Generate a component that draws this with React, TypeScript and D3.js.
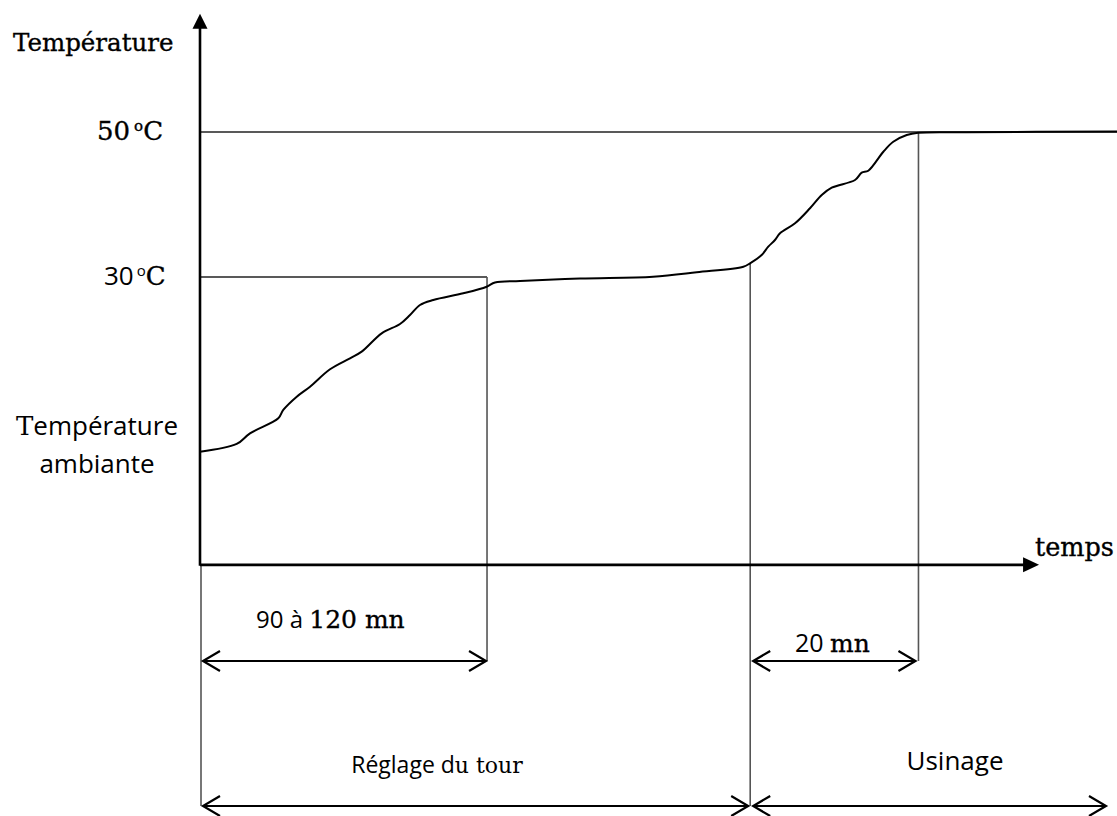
import React from "react";
import * as d3 from "d3";

// time (arbitrary units), temperature (°C, schematic)
const curveTime = [0, 4.0, 5.45, 8.54, 9.08, 10.55, 12.0, 14.18, 16.36, 17.63, 19.81, 21.81, 22.9, 23.99, 25.44, 28.71, 31.26, 32.17, 34.9, 41.44, 49.4, 54.17, 59.25, 59.98, 61.25, 61.97, 62.7, 63.25, 64.89, 66.52, 67.8, 68.89, 71.43, 72.16, 72.88, 74.52, 75.6, 77.07, 78.33, 83.6, 100];
const curveTemp = [5.9, 6.97, 8.44, 10.51, 11.66, 13.49, 14.87, 17.27, 18.79, 19.7, 22.23, 23.52, 24.76, 26.14, 26.83, 27.75, 28.66, 29.24, 29.45, 29.79, 30.04, 30.65, 31.42, 31.89, 33.03, 34.18, 35.1, 36.03, 37.41, 39.48, 41.31, 42.32, 43.38, 44.39, 44.66, 47.28, 48.66, 49.59, 49.9, 49.97, 50.07];

const levelTemps = [30, 50];
const markTimes = [0, 31.3, 60, 78.35]; // start, end réglage 90-120 mn, start usinage, end 20 mn
const axisEndTime = 91.5;
const usinageEnd = 98.8;
const tempMin = -9.7;
const tempMax = 66.3;
const timeMax = 100;

export default function App() {
  const x = d3.scaleLinear().domain([0, timeMax]).range([200, 1117]);
  const y = d3.scaleLinear().domain([30, 50]).range([277, 132]);
  const pts = curveTime.map((t, i) => [t, curveTemp[i]] as [number, number]);
  const line = d3
    .line<[number, number]>()
    .x((d) => x(d[0]))
    .y((d) => y(d[1]))
    .curve(d3.curveCatmullRom.alpha(0.5));

  const x0 = x(0);
  const yAxis = y(tempMin);
  const yTop = y(tempMax);
  const xEnd = x(axisEndTime);

  const arrowY1 = 661;
  const arrowY2 = 806;

  const dbl = (xa: number, xb: number, yy: number, key: string) => {
    const h = 17;
    const w = 10;
    return (
      <g key={key} stroke="#000" strokeWidth={2.2} fill="none">
        <line x1={xa} x2={xb} y1={yy} y2={yy} />
        <polyline points={`${xa + h},${yy - w} ${xa},${yy} ${xa + h},${yy + w}`} />
        <polyline points={`${xb - h},${yy - w} ${xb},${yy} ${xb - h},${yy + w}`} />
      </g>
    );
  };

  const serif = "'DejaVu Serif', serif";
  const sans = "'Open Sans', sans-serif";
  const thick = { stroke: "#000", strokeWidth: 0.35 };

  return (
    <svg width={1117} height={816} style={{ position: "absolute", left: 0, top: 0, background: "#fff" }}>
      {/* reference lines */}
      <line x1={x0} x2={1117} y1={y(levelTemps[1])} y2={y(levelTemps[1])} stroke="#222" strokeWidth={1.3} />
      <line x1={x0} x2={x(markTimes[1])} y1={y(levelTemps[0])} y2={y(levelTemps[0])} stroke="#222" strokeWidth={1.3} />
      <line x1={x(markTimes[1])} x2={x(markTimes[1])} y1={y(levelTemps[0])} y2={arrowY1} stroke="#555" strokeWidth={1.6} />
      <line x1={x(markTimes[2])} x2={x(markTimes[2])} y1={y(curveTemp[23])} y2={arrowY2} stroke="#555" strokeWidth={1.6} />
      <line x1={x(markTimes[3])} x2={x(markTimes[3])} y1={y(levelTemps[1])} y2={arrowY1} stroke="#555" strokeWidth={1.6} />
      <line x1={x0 + 1} x2={x0 + 1} y1={yAxis} y2={arrowY2} stroke="#555" strokeWidth={1.6} />

      {/* axes */}
      <line x1={x0} x2={x0} y1={yAxis + 1} y2={yTop + 12} stroke="#000" strokeWidth={2.6} />
      <polygon points={`${x0},${yTop} ${x0 - 7.5},${yTop + 15} ${x0 + 7.5},${yTop + 15}`} fill="#000" />
      <line x1={x0} x2={xEnd - 12} y1={yAxis} y2={yAxis} stroke="#000" strokeWidth={2.6} />
      <polygon points={`${xEnd},${yAxis} ${xEnd - 16},${yAxis - 7.5} ${xEnd - 16},${yAxis + 7.5}`} fill="#000" />

      {/* curve */}
      <path d={line(pts) || ""} fill="none" stroke="#000" strokeWidth={2} strokeLinejoin="round" />

      {/* dimension arrows */}
      {dbl(x0 + 3, x(markTimes[1]) - 1, arrowY1, "a1")}
      {dbl(x(markTimes[2]) + 3, x(markTimes[3]) - 3, arrowY1, "a2")}
      {dbl(x0 + 3, x(markTimes[2]) - 2, arrowY2, "a3")}
      {dbl(x(markTimes[2]) + 3, x(usinageEnd), arrowY2, "a4")}

      {/* labels */}
      <text x={13} y={51} fontFamily={serif} fontSize={24.5} fill="#000" {...thick}>Température</text>
      <text x={97} y={140} fontFamily={serif} fontSize={26} fill="#000" {...thick}>
        50<tspan fontSize={15} dy={-9} dx={4}>o</tspan><tspan dy={9}>C</tspan>
      </text>
      <text x={104} y={285} fill="#000">
        <tspan fontFamily={sans} fontSize={26}>30</tspan>
        <tspan fontFamily={sans} fontSize={15} dy={-9} dx={3}>o</tspan>
        <tspan fontFamily={serif} fontSize={26} dy={9} {...thick}>C</tspan>
      </text>
      <text x={97} y={435} textAnchor="middle" fill="#000" fontSize={26}>
        <tspan fontFamily={serif}>T</tspan><tspan fontFamily={sans}>empérature</tspan>
      </text>
      <text x={97} y={473} textAnchor="middle" fontFamily={sans} fontSize={26} fill="#000">ambiante</text>
      <text x={1035} y={556} fontFamily={serif} fontSize={25.5} fill="#000" {...thick}>temps</text>

      <text x={256} y={628} fill="#000">
        <tspan fontFamily={sans} fontSize={24}>90 à </tspan>
        <tspan fontFamily={serif} fontSize={25} {...thick}>120 mn</tspan>
      </text>
      <text x={795} y={652} fill="#000">
        <tspan fontFamily={sans} fontSize={25}>20 </tspan>
        <tspan fontFamily={serif} fontSize={25} {...thick}>mn</tspan>
      </text>
      <text x={437} y={773} textAnchor="middle" fill="#000">
        <tspan fontFamily={sans} fontSize={23}>Réglage d</tspan>
        <tspan fontFamily={serif} fontSize={22}>u tour</tspan>
      </text>
      <text x={955} y={770} textAnchor="middle" fontFamily={sans} fontSize={26} fill="#000">Usinage</text>
    </svg>
  );
}
